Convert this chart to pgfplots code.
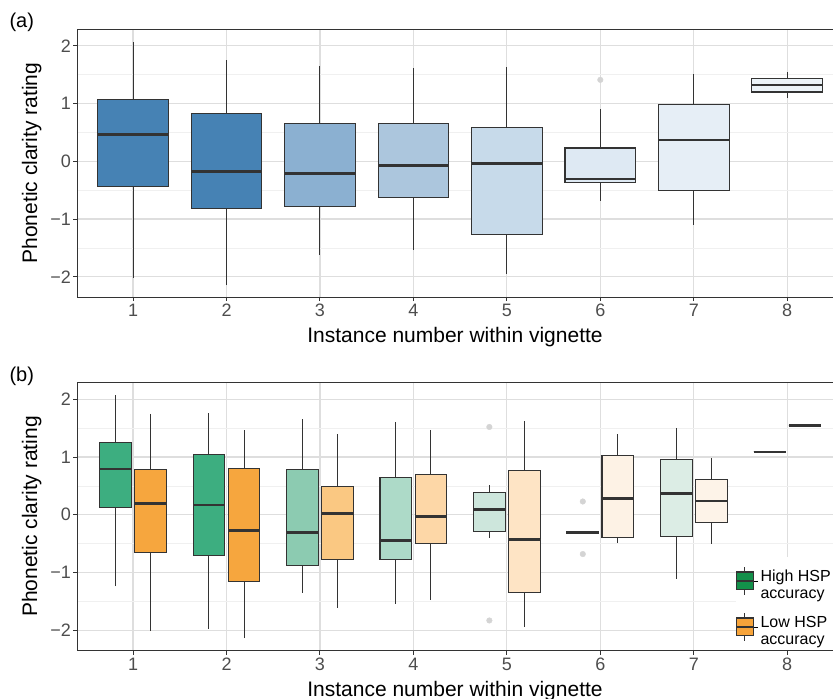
\documentclass[border=0pt]{standalone}
\usepackage{fontspec}
\setmainfont{Liberation Sans}
\usepackage{pgfplots}
\pgfplotsset{compat=1.18}
\usepgfplotslibrary{statistics}

\definecolor{gray20}{HTML}{333333}
\definecolor{gray30}{HTML}{4D4D4D}
\definecolor{gridmaj}{HTML}{DEDEDE}
\definecolor{gridmin}{HTML}{F0F0F0}
\definecolor{ptgray}{HTML}{D4D4D4}
% panel (a) blues
\definecolor{bA}{HTML}{4682B4}
\definecolor{bB}{HTML}{8BB0D1}
\definecolor{bC}{HTML}{ACC6DD}
\definecolor{bD}{HTML}{C7DAEA}
\definecolor{bE}{HTML}{DEE9F3}
\definecolor{bF}{HTML}{E6EEF6}
\definecolor{bG}{HTML}{ECF3F8}
% panel (b) greens / oranges
\definecolor{gA}{HTML}{3DAE80}
\definecolor{gB}{HTML}{8CCBB1}
\definecolor{gC}{HTML}{ADDAC8}
\definecolor{gD}{HTML}{CDE6DC}
\definecolor{gE}{HTML}{DCEDE5}
\definecolor{oA}{HTML}{F6A63E}
\definecolor{oB}{HTML}{FAC882}
\definecolor{oC}{HTML}{FDD7A7}
\definecolor{oD}{HTML}{FEE4C5}
\definecolor{oE}{HTML}{FDF2E5}
\definecolor{oF}{HTML}{FDF3E8}
\definecolor{legG}{HTML}{13904A}
\definecolor{legO}{HTML}{F7A43A}

\pgfplotsset{
  panel/.style={
    scale only axis, width=756pt, height=268pt,
    xmin=0.4, xmax=8.49, ymin=-2.35, ymax=2.29,
    xtick={1,2,3,4,5,6,7,8}, xticklabels={1,2,3,4,5,6,7,8},
    ytick={-2,-1,0,1,2}, yticklabels={−2,−1,0,1,2},
    minor ytick={-1.5,-0.5,0.5,1.5},
    xmajorgrids, ymajorgrids, yminorgrids,
    major grid style={draw=gridmaj, line width=1.2pt},
    minor grid style={draw=gridmin, line width=0.7pt},
    axis line style={draw=gray20, line width=1pt},
    tick style={draw=gray20, line width=1pt},
    tick align=outside, major tick length=4pt, minor tick length=0pt,
    tick pos=left,
    ticklabel style={font=\fontsize{18pt}{20pt}\selectfont, text=gray30},
    yticklabel style={inner xsep=2pt},
    xticklabel style={inner ysep=3pt},
    xlabel={Instance number within vignette},
    ylabel={Phonetic clarity rating},
    every axis x label/.style={at={([yshift=-45.7pt]axis description cs:0.5,0)}, anchor=base, font=\fontsize{21pt}{24pt}\selectfont},
    every axis y label/.style={at={([xshift=-40pt]axis description cs:0,0.5)}, anchor=base, rotate=90, font=\fontsize{21pt}{24pt}\selectfont},
    boxplot/draw direction=y,
    boxplot/every box/.style={line width=1.1pt},
    boxplot/every median/.style={line width=2.6pt, draw=gray20},
    boxplot/whisker extend=0,
  },
  bxa/.style={draw=gray20, line width=1pt},
  boxleg/.style={legend image code/.code={
    \path (0pt,0pt) -- (22pt,0pt);
    \draw[draw=gray20, line width=1pt] (8.5pt,-14pt) -- (8.5pt,14pt);
    \draw[draw=gray20, line width=1.1pt, fill=#1] (0pt,-8.8pt) rectangle (17pt,8.8pt);
    \draw[draw=gray20, line width=1.6pt] (0pt,0pt) -- (17pt,0pt);
  }},
}

\begin{document}
\begin{tikzpicture}
\useasboundingbox (0pt,0pt) rectangle (833pt,-699pt);

\node[anchor=base west, font=\fontsize{20pt}{24pt}\selectfont] at (6pt,-27pt) {(a)};
\node[anchor=base west, font=\fontsize{20pt}{24pt}\selectfont] at (6pt,-381pt) {(b)};

% ---------------- panel (a)
\begin{axis}[panel, at={(77pt,-29pt)}, anchor=north west]
\addplot[bxa, fill=bA, boxplot prepared={lower whisker=-2.02, lower quartile=-0.44, median=0.46, upper quartile=1.07, upper whisker=2.06, draw position=1, box extend=0.755}] coordinates {};
\addplot[bxa, fill=bA, boxplot prepared={lower whisker=-2.15, lower quartile=-0.82, median=-0.18, upper quartile=0.83, upper whisker=1.75, draw position=2, box extend=0.755}] coordinates {};
\addplot[bxa, fill=bB, boxplot prepared={lower whisker=-1.62, lower quartile=-0.79, median=-0.21, upper quartile=0.65, upper whisker=1.65, draw position=3, box extend=0.755}] coordinates {};
\addplot[bxa, fill=bC, boxplot prepared={lower whisker=-1.54, lower quartile=-0.62, median=-0.07, upper quartile=0.66, upper whisker=1.61, draw position=4, box extend=0.755}] coordinates {};
\addplot[bxa, fill=bD, boxplot prepared={lower whisker=-1.95, lower quartile=-1.27, median=-0.04, upper quartile=0.58, upper whisker=1.63, draw position=5, box extend=0.755}] coordinates {};
\addplot[bxa, fill=bE, boxplot prepared={lower whisker=-0.68, lower quartile=-0.37, median=-0.31, upper quartile=0.23, upper whisker=0.90, draw position=6, box extend=0.755}] coordinates {};
\addplot[bxa, fill=bF, boxplot prepared={lower whisker=-1.11, lower quartile=-0.51, median=0.37, upper quartile=0.98, upper whisker=1.51, draw position=7, box extend=0.755}] coordinates {};
\addplot[bxa, fill=bG, boxplot prepared={lower whisker=1.09, lower quartile=1.20, median=1.32, upper quartile=1.43, upper whisker=1.55, draw position=8, box extend=0.755}] coordinates {};
\addplot[only marks, mark=*, mark size=2.8pt, color=ptgray] coordinates {(6,1.41)};
\end{axis}

% ---------------- panel (b)
\begin{axis}[panel, at={(77pt,-382.5pt)}, anchor=north west,
  legend style={at={(1,0)}, anchor=south east, draw=none, fill=white,
    inner xsep=0pt, inner ysep=9pt, row sep=17pt,
    font=\fontsize{16pt}{17pt}\selectfont, cells={anchor=west}},
  legend cell align=left]
% high HSP accuracy (left, green)
\addplot[forget plot, bxa, fill=gA, boxplot prepared={lower whisker=-1.24, lower quartile=0.13, median=0.79, upper quartile=1.25, upper whisker=2.07, draw position=0.8125, box extend=0.34}] coordinates {};
\addplot[forget plot, bxa, fill=gA, boxplot prepared={lower whisker=-1.98, lower quartile=-0.71, median=0.17, upper quartile=1.05, upper whisker=1.76, draw position=1.8125, box extend=0.34}] coordinates {};
\addplot[forget plot, bxa, fill=gB, boxplot prepared={lower whisker=-1.35, lower quartile=-0.88, median=-0.31, upper quartile=0.78, upper whisker=1.65, draw position=2.8125, box extend=0.34}] coordinates {};
\addplot[forget plot, bxa, fill=gC, boxplot prepared={lower whisker=-1.54, lower quartile=-0.77, median=-0.45, upper quartile=0.65, upper whisker=1.61, draw position=3.8125, box extend=0.34}] coordinates {};
\addplot[forget plot, bxa, fill=gD, boxplot prepared={lower whisker=-0.40, lower quartile=-0.29, median=0.09, upper quartile=0.38, upper whisker=0.51, draw position=4.8125, box extend=0.34}] coordinates {};
\addplot[forget plot, bxa, fill=gD, boxplot prepared={lower whisker=-0.33, lower quartile=-0.33, median=-0.31, upper quartile=-0.29, upper whisker=-0.29, draw position=5.8125, box extend=0.34}] coordinates {};
\addplot[forget plot, bxa, fill=gE, boxplot prepared={lower whisker=-1.11, lower quartile=-0.37, median=0.37, upper quartile=0.95, upper whisker=1.51, draw position=6.8125, box extend=0.34}] coordinates {};
\addplot[forget plot, bxa, fill=gE, boxplot prepared={lower whisker=1.09, lower quartile=1.09, median=1.09, upper quartile=1.09, upper whisker=1.09, draw position=7.8125, box extend=0.34}] coordinates {};
% low HSP accuracy (right, orange)
\addplot[forget plot, bxa, fill=oA, boxplot prepared={lower whisker=-2.02, lower quartile=-0.66, median=0.20, upper quartile=0.79, upper whisker=1.75, draw position=1.1875, box extend=0.34}] coordinates {};
\addplot[forget plot, bxa, fill=oA, boxplot prepared={lower whisker=-2.14, lower quartile=-1.16, median=-0.27, upper quartile=0.80, upper whisker=1.46, draw position=2.1875, box extend=0.34}] coordinates {};
\addplot[forget plot, bxa, fill=oB, boxplot prepared={lower whisker=-1.61, lower quartile=-0.77, median=0.02, upper quartile=0.49, upper whisker=1.40, draw position=3.1875, box extend=0.34}] coordinates {};
\addplot[forget plot, bxa, fill=oC, boxplot prepared={lower whisker=-1.47, lower quartile=-0.50, median=-0.03, upper quartile=0.69, upper whisker=1.47, draw position=4.1875, box extend=0.34}] coordinates {};
\addplot[forget plot, bxa, fill=oD, boxplot prepared={lower whisker=-1.95, lower quartile=-1.34, median=-0.43, upper quartile=0.77, upper whisker=1.63, draw position=5.1875, box extend=0.34}] coordinates {};
\addplot[forget plot, bxa, fill=oE, boxplot prepared={lower whisker=-0.48, lower quartile=-0.39, median=0.28, upper quartile=1.03, upper whisker=1.40, draw position=6.1875, box extend=0.34}] coordinates {};
\addplot[forget plot, bxa, fill=oF, boxplot prepared={lower whisker=-0.51, lower quartile=-0.14, median=0.24, upper quartile=0.61, upper whisker=0.98, draw position=7.1875, box extend=0.34}] coordinates {};
\addplot[forget plot, bxa, fill=oF, boxplot prepared={lower whisker=1.55, lower quartile=1.55, median=1.55, upper quartile=1.55, upper whisker=1.55, draw position=8.1875, box extend=0.34}] coordinates {};
% outliers
\addplot[forget plot, only marks, mark=*, mark size=2.8pt, color=ptgray] coordinates {(4.8125,1.52) (4.8125,-1.83) (5.8125,0.23) (5.8125,-0.68)};
\addlegendimage{boxleg=legG}
\addlegendentry{\begin{tabular}{@{}l@{}}High HSP\\accuracy\end{tabular}}
\addlegendimage{boxleg=legO}
\addlegendentry{\begin{tabular}{@{}l@{}}Low HSP\\accuracy\end{tabular}}
\end{axis}
\end{tikzpicture}
\end{document}
